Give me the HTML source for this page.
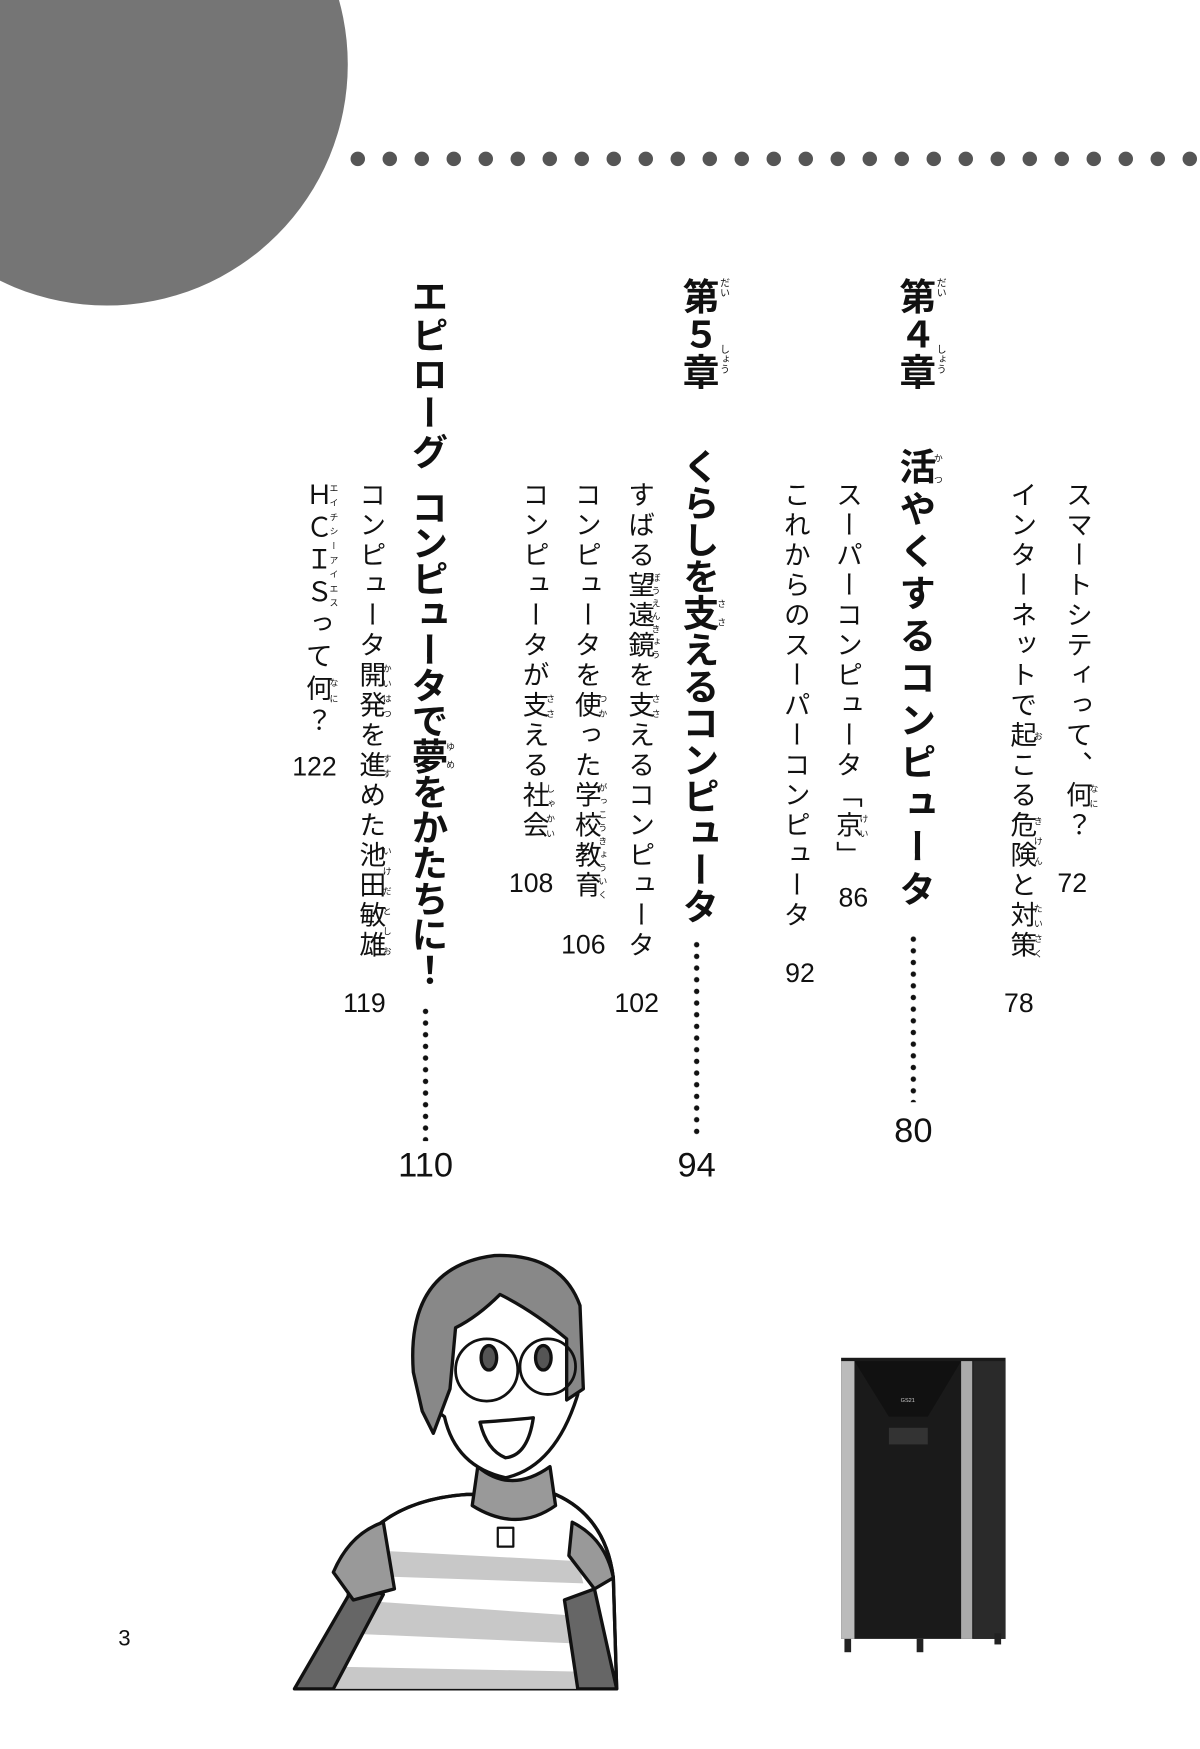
<!DOCTYPE html>
<html><head><meta charset="utf-8"><style>
html,body{margin:0;padding:0;background:#fff;}
body{width:1200px;height:1749px;overflow:hidden;position:relative;}
#w{position:absolute;left:0;top:0;width:1080px;height:1574px;transform:scale(1.11111);transform-origin:0 0;font-family:"Liberation Sans","Noto Sans CJK JP",sans-serif;color:#111;}
.v{position:absolute;writing-mode:vertical-rl;white-space:nowrap;font-size:24px;letter-spacing:3px;line-height:26px;}
.b{font-size:33px;font-weight:bold;letter-spacing:1px;line-height:36px;}
rt{font-size:8px;letter-spacing:0;font-weight:normal;}
.n{position:absolute;font-size:24px;transform:translateX(-50%);line-height:1;}
.N{position:absolute;font-size:31px;transform:translateX(-50%);line-height:1;}
.d{position:absolute;width:6px;background:radial-gradient(circle,#111 2.2px,transparent 2.6px) 0 0/6px 10.5px repeat-y;}
</style></head><body><div id="w">
<svg width="1080" height="1574" style="position:absolute;left:0;top:0">
<circle cx="96" cy="58" r="217" fill="#757575"/>
<g fill="#555">
<circle cx="322" cy="143" r="6.5"/><circle cx="350.8" cy="143" r="6.5"/><circle cx="379.6" cy="143" r="6.5"/><circle cx="408.4" cy="143" r="6.5"/><circle cx="437.2" cy="143" r="6.5"/><circle cx="466" cy="143" r="6.5"/><circle cx="494.8" cy="143" r="6.5"/><circle cx="523.6" cy="143" r="6.5"/><circle cx="552.4" cy="143" r="6.5"/><circle cx="581.2" cy="143" r="6.5"/><circle cx="610" cy="143" r="6.5"/><circle cx="638.8" cy="143" r="6.5"/><circle cx="667.6" cy="143" r="6.5"/><circle cx="696.4" cy="143" r="6.5"/><circle cx="725.2" cy="143" r="6.5"/><circle cx="754" cy="143" r="6.5"/><circle cx="782.8" cy="143" r="6.5"/><circle cx="811.6" cy="143" r="6.5"/><circle cx="840.4" cy="143" r="6.5"/><circle cx="869.2" cy="143" r="6.5"/><circle cx="898" cy="143" r="6.5"/><circle cx="926.8" cy="143" r="6.5"/><circle cx="955.6" cy="143" r="6.5"/><circle cx="984.4" cy="143" r="6.5"/><circle cx="1013.2" cy="143" r="6.5"/><circle cx="1042" cy="143" r="6.5"/><circle cx="1070.8" cy="143" r="6.5"/>
</g>
<g stroke="#111" stroke-width="3" stroke-linejoin="round">
<path d="M300 1520 L320 1395 Q350 1350 420 1345 L500 1345 Q545 1365 552 1420 L555 1520 Z" fill="#fff"/>
<path d="M318 1440 L530 1455 L540 1480 L310 1470 Z M300 1500 L548 1505 L550 1520 L298 1520 Z M330 1395 L520 1405 L525 1425 L322 1418 Z" fill="#c8c8c8" stroke="none"/>
<path d="M300 1520 L320 1395 Q350 1350 420 1345 L500 1345 Q545 1365 552 1420 L555 1520" fill="none"/>
<path d="M265 1520 L320 1425 L345 1435 L300 1520 Z" fill="#666"/>
<path d="M508 1440 L535 1430 L555 1520 L520 1520 Z" fill="#666"/>
<path d="M300 1415 Q315 1380 345 1370 L355 1430 L318 1440 Z" fill="#999"/>
<path d="M515 1370 Q545 1385 552 1420 L535 1430 L512 1400 Z" fill="#999"/>
<path d="M430 1320 Q460 1345 495 1320 L500 1355 Q465 1380 425 1355 Z" fill="#999"/>
<path d="M378 1200 Q380 1140 445 1135 Q510 1135 520 1200 L520 1255 Q500 1320 455 1330 Q410 1320 400 1275 L380 1260 Z" fill="#fff"/>
<path d="M372 1235 Q365 1140 445 1130 Q505 1128 522 1175 L525 1250 L510 1260 L510 1205 Q480 1180 450 1165 Q430 1185 410 1195 L405 1250 L390 1290 L380 1270 Z" fill="#888"/>
<circle cx="438" cy="1233" r="28" fill="none" stroke-width="2.5"/><circle cx="493" cy="1230" r="25" fill="none" stroke-width="2.5"/>
<ellipse cx="440" cy="1222" rx="7" ry="11" fill="#555"/><ellipse cx="489" cy="1222" rx="7" ry="11" fill="#555"/>
<path d="M432 1280 Q462 1278 480 1276 Q475 1310 455 1312 Q438 1305 432 1280 Z" fill="#fff"/>
<path d="M448 1375 L462 1375 L462 1392 L448 1392 Z" fill="#fff" stroke-width="2"/>
</g>
<g>
<rect x="757" y="1222" width="148" height="253" fill="#1a1a1a"/>
<rect x="757" y="1225" width="12" height="250" fill="#bbb"/>
<rect x="865" y="1225" width="10" height="250" fill="#aaa"/>
<rect x="876" y="1225" width="29" height="250" fill="#2a2a2a"/>
<path d="M769 1225 L865 1225 L835 1275 L800 1275 Z" fill="#111"/>
<rect x="800" y="1285" width="35" height="15" fill="#333"/>
<text x="817" y="1262" font-size="5" fill="#ccc" text-anchor="middle" font-family="Liberation Sans">GS21</text>
<rect x="760" y="1475" width="6" height="12" fill="#222"/><rect x="825" y="1475" width="6" height="12" fill="#222"/><rect x="895" y="1470" width="6" height="10" fill="#222"/>
</g>
</svg>

<div class="v b" style="left:805px;top:250px;">第４章</div>
<div class="v" style="left:842px;top:250px;font-size:9px;letter-spacing:0;line-height:10px">だい</div>
<div class="v" style="left:842px;top:310px;font-size:9px;letter-spacing:0;line-height:10px">しょう</div>
<div class="v b" style="left:610px;top:250px;">第５章</div>
<div class="v" style="left:647px;top:250px;font-size:9px;letter-spacing:0;line-height:10px">だい</div>
<div class="v" style="left:647px;top:310px;font-size:9px;letter-spacing:0;line-height:10px">しょう</div>

<div class="v" style="left:955px;top:433px;">スマートシティって、<ruby>何<rt>なに</rt></ruby>？</div>
<div class="n" style="left:965px;top:784px;">72</div>
<div class="v" style="left:905px;top:433px;">インターネットで<ruby>起<rt>お</rt></ruby>こる<ruby>危険<rt>きけん</rt></ruby>と<ruby>対策<rt>たいさく</rt></ruby></div>
<div class="n" style="left:917px;top:892px;">78</div>

<div class="v b" style="left:805px;top:403px;letter-spacing:5px;"><ruby>活<rt>かつ</rt></ruby>やくするコンピュータ</div>
<div class="d" style="left:819px;top:840px;height:152px;"></div>
<div class="N" style="left:822px;top:1002px;">80</div>

<div class="v" style="left:748px;top:433px;">スーパーコンピュータ「<ruby>京<rt>けい</rt></ruby>」</div>
<div class="n" style="left:768px;top:797px;">86</div>
<div class="v" style="left:701px;top:433px;">これからのスーパーコンピュータ</div>
<div class="n" style="left:720px;top:865px;">92</div>

<div class="v b" style="left:610px;top:403px;letter-spacing:0;">くらしを<ruby>支<rt>ささ</rt></ruby>えるコンピュータ</div>
<div class="d" style="left:624px;top:845px;height:180px;"></div>
<div class="N" style="left:627px;top:1033px;">94</div>

<div class="v" style="left:561px;top:433px;">すばる<ruby>望遠鏡<rt>ぼうえんきょう</rt></ruby>を<ruby>支<rt>ささ</rt></ruby>えるコンピュータ</div>
<div class="n" style="left:573px;top:892px;">102</div>
<div class="v" style="left:513px;top:433px;">コンピュータを<ruby>使<rt>つか</rt></ruby>った<ruby>学校教育<rt>がっこうきょういく</rt></ruby></div>
<div class="n" style="left:525px;top:839px;">106</div>
<div class="v" style="left:466px;top:433px;">コンピュータが<ruby>支<rt>ささ</rt></ruby>える<ruby>社会<rt>しゃかい</rt></ruby></div>
<div class="n" style="left:478px;top:784px;">108</div>

<div class="v b" style="left:366px;top:250px;letter-spacing:2px;">エピローグ</div>
<div class="v b" style="left:366px;top:440px;letter-spacing:-1px;">コンピュータで<ruby>夢<rt>ゆめ</rt></ruby>をかたちに！</div>
<div class="d" style="left:380px;top:905px;height:122px;"></div>
<div class="N" style="left:383px;top:1033px;">110</div>

<div class="v" style="left:319px;top:433px;">コンピュータ<ruby>開発<rt>かいはつ</rt></ruby>を<ruby>進<rt>すす</rt></ruby>めた<ruby>池田敏雄<rt>いけだとしお</rt></ruby></div>
<div class="n" style="left:328px;top:892px;">119</div>
<div class="v" style="left:271px;top:433px;letter-spacing:5px;"><ruby>ＨＣＩＳ<rt>エイチシーアイエス</rt></ruby>って<ruby>何<rt>なに</rt></ruby>？</div>
<div class="n" style="left:283px;top:679px;">122</div>

<div class="n" style="left:112px;top:1465px;font-size:20px;">3</div>
</div></body></html>
